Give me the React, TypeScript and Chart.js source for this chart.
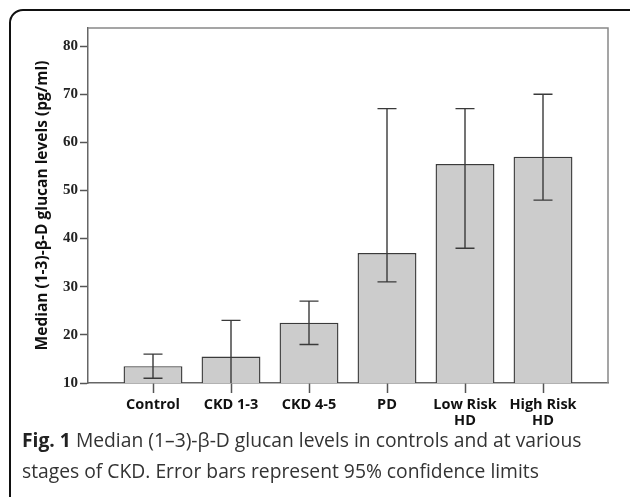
import React, { useEffect, useRef } from "react";
import { Chart, registerables } from "chart.js";

Chart.register(...registerables);

const categories = ["Control", "CKD 1-3", "CKD 4-5", "PD", "Low Risk HD", "High Risk HD"];
const categoryLines = [["Control"], ["CKD 1-3"], ["CKD 4-5"], ["PD"], ["Low Risk", "HD"], ["High Risk", "HD"]];
const medians = [13.5, 15.5, 22.5, 37, 55.5, 57];
const ciLow = [11, 8, 18, 31, 38, 48];
const ciHigh = [16, 23, 27, 67, 67, 70];
const yTicks = [10, 20, 30, 40, 50, 60, 70, 80];

const errorBarPlugin = {
  id: "errorBars",
  afterDatasetsDraw(chart: any) {
    const { ctx, chartArea, scales } = chart;
    const xs = scales.x;
    const ys = scales.y;
    ctx.save();
    ctx.beginPath();
    ctx.rect(chartArea.left, chartArea.top, chartArea.right - chartArea.left, chartArea.bottom - chartArea.top);
    ctx.clip();
    ctx.strokeStyle = "#3a3a3a";
    ctx.lineWidth = 1.4;
    const cap = 9.5;
    categories.forEach((_, i) => {
      const x = xs.getPixelForValue(i);
      const yl = ys.getPixelForValue(ciLow[i]);
      const yh = ys.getPixelForValue(ciHigh[i]);
      ctx.beginPath();
      ctx.moveTo(x, yl);
      ctx.lineTo(x, yh);
      ctx.moveTo(x - cap, yh);
      ctx.lineTo(x + cap, yh);
      ctx.moveTo(x - cap, yl);
      ctx.lineTo(x + cap, yl);
      ctx.stroke();
    });
    ctx.restore();
  },
};

const framePlugin = {
  id: "frame",
  afterDraw(chart: any) {
    const { ctx, chartArea } = chart;
    ctx.save();
    ctx.strokeStyle = "#888";
    ctx.lineWidth = 1.5;
    ctx.beginPath();
    ctx.moveTo(chartArea.left, chartArea.top);
    ctx.lineTo(chartArea.right, chartArea.top);
    ctx.lineTo(chartArea.right, chartArea.bottom);
    ctx.stroke();
    ctx.restore();
  },
};

function BarChart() {
  const ref = useRef<HTMLCanvasElement | null>(null);
  useEffect(() => {
    if (!ref.current) return;
    const chart = new Chart(ref.current, {
      type: "bar",
      data: {
        datasets: [
          {
            data: medians.map((v, i) => ({ x: i, y: v })),
            backgroundColor: "#cccccc",
            borderColor: "#3a3a3a",
            borderWidth: 1.4,
            categoryPercentage: 1,
            barPercentage: 0.755,
          },
        ],
      },
      options: {
        animation: false,
        responsive: true,
        maintainAspectRatio: false,
        layout: { padding: { left: 0, top: 28, right: 22, bottom: 0 } },
        plugins: { legend: { display: false }, tooltip: { enabled: false } },
        scales: {
          x: {
            type: "linear",
            offset: false,
            min: -65 / 78,
            max: 5 + 65 / 78,
            afterBuildTicks: (s: any) => {
              s.ticks = categories.map((_, i) => ({ value: i }));
            },
            afterFit: (s: any) => {
              s.height = 57;
            },
            ticks: {
              callback: (_v: any, i: number) => categoryLines[i],
              font: { family: "Open Sans", weight: "bold", size: 14.5, lineHeight: 1.1 },
              color: "#111",
              padding: 4,
              maxRotation: 0,
              autoSkip: false,
            },
            grid: { offset: false, drawOnChartArea: false, tickLength: 10, color: "#555", tickWidth: 1.5 },
            border: { color: "#666", width: 1.5 },
          },
          y: {
            min: 10,
            max: 83.75,
            afterBuildTicks: (s: any) => {
              s.ticks = yTicks.map((v) => ({ value: v }));
            },
            afterFit: (s: any) => {
              s.width = 88;
            },
            ticks: {
              font: { family: "Liberation Serif", weight: "bold", size: 15 },
              color: "#222",
              padding: 2,
            },
            grid: { drawOnChartArea: false, tickLength: 8, color: "#555", tickWidth: 1.5 },
            border: { color: "#666", width: 1.5 },
            title: {
              display: true,
              text: "Median (1-3)-β-D glucan levels (pg/ml)",
              font: { family: "Open Sans", weight: "bold", size: 15.5 },
              color: "#111",
              padding: { top: 33.5, bottom: 0 },
            },
          },
        },
      },
      plugins: [errorBarPlugin, framePlugin],
    } as any);
    return () => chart.destroy();
  }, []);
  return <canvas ref={ref} />;
}

export default function App() {
  return (
    <div
      style={{
        position: "fixed",
        left: 0,
        top: 0,
        width: 630,
        height: 497,
        overflow: "hidden",
        background: "#fff",
      }}
    >
      <div
        style={{
          position: "absolute",
          left: 9,
          top: 9,
          width: 640,
          height: 520,
          border: "2px solid #111",
          borderTopLeftRadius: 14,
          borderTopRightRadius: 8,
          boxSizing: "border-box",
        }}
      />
      <div style={{ position: "absolute", left: 0, top: 0, width: 630, height: 440 }}>
        <BarChart />
      </div>
      <div
        style={{
          position: "absolute",
          left: 22,
          top: 424,
          width: 605,
          fontFamily: "'Open Sans', sans-serif",
          fontSize: 19.3,
          lineHeight: "31px",
          color: "#333",
          whiteSpace: "nowrap",
        }}
      >
        <span style={{ fontWeight: "bold", color: "#222" }}>Fig. 1</span> Median (1–3)-β-D glucan levels in controls and at various
        <br />
        stages of CKD. Error bars represent 95% confidence limits
      </div>
    </div>
  );
}
